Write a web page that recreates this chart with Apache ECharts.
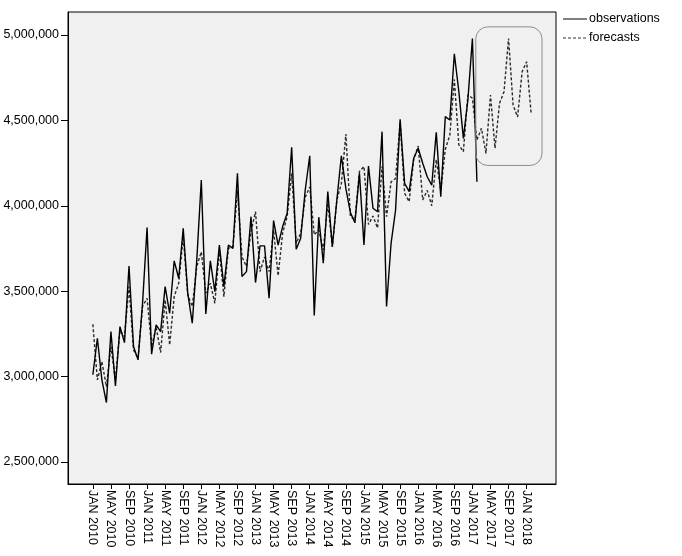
<!DOCTYPE html>
<html>
<head>
<meta charset="utf-8">
<script src="https://cdn.jsdelivr.net/npm/echarts@6/dist/echarts.min.js"></script>
<style>
html,body{margin:0;padding:0;background:#fff;}
#chart{width:682px;height:556px;}
</style>
</head>
<body>
<div id="chart"></div>
<script>
// Month names used for axis categories
const monthNames = ["JAN","FEB","MAR","APR","MAY","JUN","JUL","AUG","SEP","OCT","NOV","DEC"];
// Axis spans Aug 2009 .. Jul 2018 (monthly categories)
const axisStart = {year: 2009, month: 7};
const axisMonths = 108;
// Observations start JAN 2010
const observations = [
  3010000, 3224000, 2980000, 2847000, 3263000, 2945000, 3292000, 3198000, 3647000, 3175000, 3097000, 3429000,
  3872000, 3130000, 3302000, 3263000, 3526000, 3370000, 3677000, 3575000, 3868000, 3488000, 3312000, 3683000,
  4151000, 3366000, 3677000, 3497000, 3770000, 3526000, 3770000, 3750000, 4190000, 3585000, 3614000, 3936000,
  3550000, 3765000, 3765000, 3458000, 3913000, 3770000, 3878000, 3956000, 4342000, 3745000, 3810000, 4092000,
  4293000, 3357000, 3933000, 3663000, 4083000, 3760000, 4034000, 4293000, 4100000, 3960000, 3900000, 4190000,
  3770000, 4233000, 3985000, 3965000, 4434000, 3410000, 3780000, 3975000, 4506000, 4132000, 4083000, 4278000,
  4337000, 4249000, 4170000, 4120000, 4430000, 4053000, 4522000, 4502000, 4890000, 4668000, 4395000, 4620000,
  4980000, 4140000
];
// Forecasts start JAN 2010
const forecasts = [
  3306000, 2980000, 3087000, 2940000, 3175000, 2980000, 3270000, 3233000, 3526000, 3156000, 3107000, 3410000,
  3458000, 3175000, 3290000, 3140000, 3449000, 3185000, 3468000, 3546000, 3819000, 3478000, 3410000, 3644000,
  3730000, 3488000, 3546000, 3429000, 3741000, 3468000, 3751000, 3760000, 4090000, 3700000, 3644000, 3850000,
  3965000, 3614000, 3700000, 3614000, 3858000, 3590000, 3840000, 3936000, 4190000, 3780000, 3840000, 4050000,
  4110000, 3830000, 3858000, 3741000, 4015000, 3760000, 4034000, 4130000, 4420000, 3936000, 3920000, 4200000,
  4230000, 3890000, 3940000, 3870000, 4230000, 3936000, 4140000, 4160000, 4490000, 4073000, 4024000, 4270000,
  4350000, 4034000, 4090000, 4000000, 4270000, 4090000, 4330000, 4414000, 4740000, 4356000, 4317000, 4650000,
  4630000, 4385000, 4454000, 4307000, 4649000, 4337000, 4600000, 4668000, 4980000, 4590000, 4520000, 4785000,
  4844000, 4540000
];
const yTicks = [2500000, 3000000, 3500000, 4000000, 4500000, 5000000];
const seriesNames = ["observations", "forecasts"];
const dataStartLabel = "JAN 2010";
const lastTickLabel = "JAN 2018";
const tickMonths = ["JAN", "MAY", "SEP"];

const categories = [];
for (let i = 0; i < axisMonths; i++) {
  const m = (axisStart.month + i) % 12;
  const y = axisStart.year + Math.floor((axisStart.month + i) / 12);
  categories.push(monthNames[m] + " " + y);
}
const startIdx = categories.indexOf(dataStartLabel);
const endIdx = categories.indexOf(lastTickLabel);
function showTick(idx) {
  if (idx < startIdx || idx > endIdx) return false;
  return tickMonths.indexOf(categories[idx].slice(0, 3)) >= 0;
}
const obsData = observations.map((v, i) => [categories[startIdx + i], v]);
const fcData = forecasts.map((v, i) => [categories[startIdx + i], v]);

const chart = echarts.init(document.getElementById('chart'));
const font = "'Liberation Sans', Arial, sans-serif";
chart.setOption({
  animation: false,
  backgroundColor: '#ffffff',
  textStyle: {fontFamily: font},
  grid: {left: 68, right: 126, top: 12, bottom: 72, show: true, backgroundColor: '#f0f0f0', borderColor: '#000', borderWidth: 1, containLabel: false},
  xAxis: {
    type: 'category', data: categories, boundaryGap: true,
    axisLine: {show: true, lineStyle: {color: '#000', width: 1}},
    axisTick: {show: true, alignWithLabel: true, length: 5, interval: (idx) => showTick(idx), lineStyle: {color: '#000'}},
    axisLabel: {show: true, rotate: -90, interval: (idx) => showTick(idx), fontSize: 12.5, color: '#000', fontFamily: font, margin: 6},
    splitLine: {show: false}
  },
  yAxis: {
    type: 'value', min: 2370000, max: 5135000,
    axisLine: {show: true, lineStyle: {color: '#000', width: 1}},
    axisTick: {show: true, length: 7, customValues: yTicks, lineStyle: {color: '#000'}},
    axisLabel: {show: true, customValues: yTicks, fontSize: 12.5, color: '#000', fontFamily: font, margin: 9,
      formatter: v => v.toLocaleString('en-US')},
    splitLine: {show: false}
  },
  series: [
    {name: seriesNames[0], type: 'line', data: obsData, symbol: 'none', color: '#000',
      lineStyle: {color: '#000', width: 1.4}, z: 3},
    {name: seriesNames[1], type: 'line', data: fcData, symbol: 'none', color: '#2a2a2a',
      lineStyle: {color: '#2a2a2a', width: 1.4, type: [3, 2]}, z: 2}
  ]
});

// Rounded annotation box around the forecast horizon
const boxFrom = categories.indexOf("JAN 2017");
const boxTo = categories.indexOf("APR 2018");
const p0 = chart.convertToPixel({gridIndex: 0}, [boxFrom, 5048000]);
const p1 = chart.convertToPixel({gridIndex: 0}, [boxTo, 4236000]);
const step = chart.convertToPixel({gridIndex: 0}, [boxFrom + 1, 0])[0] - p0[0];
const bx = p0[0] + 0.75 * step;
const bx2 = p1[0] + 0.4 * step;
const gridRight = chart.convertToPixel({gridIndex: 0}, [categories.length - 1, 0])[0] + step / 2;
const lgX = gridRight + 7, lgY = 19, lgGap = 19;
chart.setOption({
  graphic: [
    {type: 'rect', shape: {x: bx, y: p0[1], width: bx2 - bx, height: p1[1] - p0[1], r: 12},
      style: {fill: null, stroke: '#8c8c8c', lineWidth: 1}, z: 10},
    {type: 'line', shape: {x1: lgX, y1: lgY, x2: lgX + 24, y2: lgY}, style: {stroke: '#000', lineWidth: 1}},
    {type: 'text', x: lgX + 26, y: lgY, style: {text: seriesNames[0], fill: '#000', font: "12.5px " + font, verticalAlign: 'middle'}},
    {type: 'line', shape: {x1: lgX, y1: lgY + lgGap, x2: lgX + 24, y2: lgY + lgGap}, style: {stroke: '#333', lineWidth: 1, lineDash: [3, 2]}},
    {type: 'text', x: lgX + 26, y: lgY + lgGap, style: {text: seriesNames[1], fill: '#000', font: "12.5px " + font, verticalAlign: 'middle'}}
  ]
});
</script>
</body>
</html>
